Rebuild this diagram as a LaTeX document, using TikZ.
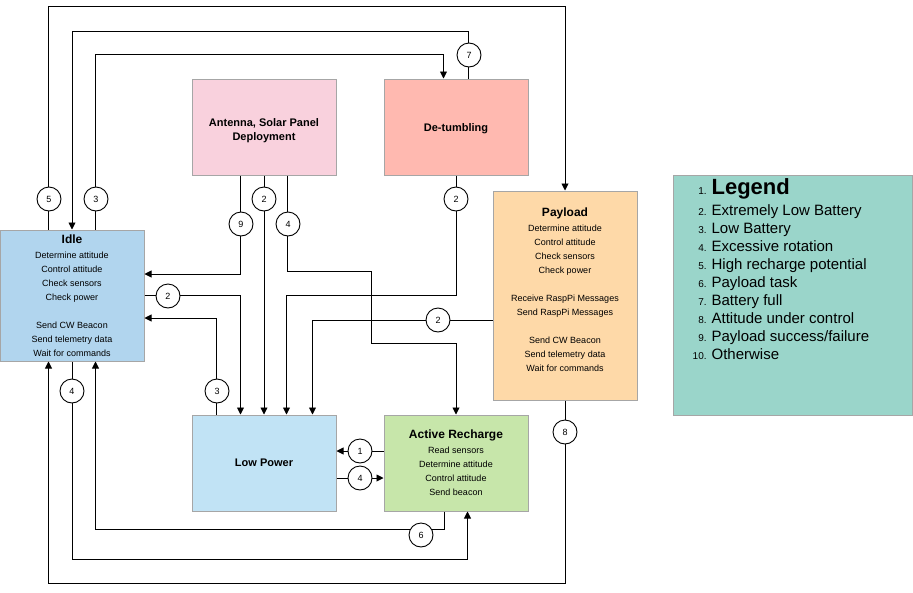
\documentclass[tikz,border=0pt]{standalone}
\usepackage{fontspec}
\setmainfont{Liberation Sans}
\usetikzlibrary{arrows.meta,positioning}

\definecolor{boxgray}{RGB}{166,166,166}
\definecolor{idleblue}{RGB}{177,213,238}
\definecolor{lowblue}{RGB}{193,227,245}
\definecolor{deploypink}{RGB}{249,209,221}
\definecolor{tumblered}{RGB}{255,185,176}
\definecolor{payloadorange}{RGB}{254,217,168}
\definecolor{rechargegreen}{RGB}{199,230,170}
\definecolor{legendteal}{RGB}{154,213,202}

\newcommand{\statetitle}[1]{{\fontsize{12}{14}\selectfont\bfseries #1}}
\newcommand{\legnum}[1]{{\fontsize{10}{12}\selectfont #1}}

\tikzset{
  state/.style={draw=boxgray, line width=1pt, minimum width=144pt, minimum height=96pt,
    align=center, inner sep=0pt, font=\fontsize{9}{14}\selectfont},
  bigstate/.style={state, font=\fontsize{11}{14}\selectfont\bfseries},
  flow/.style={draw, line width=0.9pt, -{Triangle[length=7pt,width=7pt]}},
  lbl/.style={circle, draw, fill=white, line width=0.9pt, minimum size=24pt,
    inner sep=0pt, font=\fontsize{9}{10}\selectfont}
}

\begin{document}
\begin{tikzpicture}[x=1pt,y=-1pt]
\useasboundingbox (0,0) rectangle (913,592);

\node[state, minimum height=131pt, fill=idleblue] (idle) at (72,295.5)
  {\statetitle{Idle}\\[1pt] Determine attitude\\ Control attitude\\ Check sensors\\ Check power\\[14pt]
   Send CW Beacon\\ Send telemetry data\\ Wait for commands};
\node[bigstate, fill=deploypink] (antenna) at (264,127) {\mbox{}\\[2pt]Antenna, Solar Panel\\ Deployment};
\node[bigstate, fill=tumblered] (detumble) at (456,127) {\mbox{}\\[-2pt]De-tumbling};
\node[state, minimum height=209pt, fill=payloadorange] (payload) at (565,295.5)
  {\statetitle{Payload}\\[1pt] Determine attitude\\ Control attitude\\ Check sensors\\ Check power\\[14pt]
   Receive RaspPi Messages\\ Send RaspPi Messages\\[14pt]
   Send CW Beacon\\ Send telemetry data\\ Wait for commands\\[-2pt]\mbox{}};
\node[bigstate, fill=lowblue] (lowpower) at (264,463) {Low Power};
\node[state, fill=rechargegreen] (recharge) at (456,463)
  {\statetitle{Active Recharge}\\[1pt] Read sensors\\ Determine attitude\\ Control attitude\\ Send beacon};

\node[draw=boxgray, line width=1pt, fill=legendteal, minimum width=239pt, minimum height=240pt,
  inner sep=0pt] (legend) at (792.5,295) {};
\node[anchor=north west, inner sep=0pt, font=\fontsize{15}{18}\selectfont] (leglist)
  at ([xshift=20pt,yshift=-4pt]legend.north west) {%
  \begin{tabular}{@{}r@{\hspace{5pt}}l@{}}
  \legnum{1.} & {\fontsize{22}{24}\selectfont\bfseries Legend}\\[3pt]
  \legnum{2.} & Extremely Low Battery\\
  \legnum{3.} & Low Battery\\
  \legnum{4.} & Excessive rotation\\
  \legnum{5.} & High recharge potential\\
  \legnum{6.} & Payload task\\
  \legnum{7.} & Battery full\\
  \legnum{8.} & Attitude under control\\
  \legnum{9.} & Payload success/failure\\
  \legnum{10.} & Otherwise
  \end{tabular}};

\draw[flow] ([xshift=49pt]idle.north west) -- ++(0,-223) -| (payload.north);
\draw[flow] ([xshift=85pt]detumble.north west) -- ++(0,-47) -| (idle.north);
\draw[flow] ([xshift=96pt]idle.north west) -- ++(0,-175) -| ([xshift=60pt]detumble.north west);
\draw[flow] ([xshift=49pt]antenna.south west) |- ([yshift=21.5pt]idle.east);
\draw[flow] (antenna.south) -- (lowpower.north);
\draw[flow] ([xshift=96pt]antenna.south west) -- ++(0,96) -| ++(84,72) -| (recharge.north);
\draw[flow] (idle.east) -| ([xshift=49pt]lowpower.north west);
\draw[flow] ([xshift=25pt]lowpower.north west) |- ([yshift=-22.5pt]idle.east);
\draw[flow] (detumble.south) -- ++(0,120) -| ([xshift=95pt]lowpower.north west);
\draw[flow] ([yshift=-24.5pt]payload.west) -| ([xshift=121pt]lowpower.north west);
\draw[flow] ([yshift=12pt]recharge.west) -- ([yshift=12pt]lowpower.east);
\draw[flow] ([yshift=-15pt]lowpower.east) -- ([yshift=-15pt]recharge.west);
\draw[flow] ([xshift=61pt]recharge.south west) -- ++(0,18) -| ([xshift=96pt]idle.south west);
\draw[flow] (idle.south) -- ++(0,198) -| ([xshift=84pt]recharge.south west);
\draw[flow] (payload.south) -- ++(0,183) -| ([xshift=49pt]idle.south west);

\node[lbl] (l5top) at (49,199) {5};
\node[lbl] (l3top) at (96,199) {3};
\node[lbl] (l7) at (469,55) {7};
\node[lbl] (l9) at (241,224) {9};
\node[lbl] (l2ant) at (264,199) {2};
\node[lbl] (l4ant) at (288,224) {4};
\node[lbl] (l2tum) at (456,199) {2};
\node[lbl] (l2idle) at (168,296) {2};
\node[lbl] (l3low) at (217,391) {3};
\node[lbl] (l2pay) at (438,320) {2};
\node[lbl] (l1) at (360,451) {1};
\node[lbl] (l4low) at (360,478) {4};
\node[lbl] (l6) at (421,535) {6};
\node[lbl] (l4idle) at (72,391) {4};
\node[lbl] (l8) at (565,432) {8};
\end{tikzpicture}
\end{document}
